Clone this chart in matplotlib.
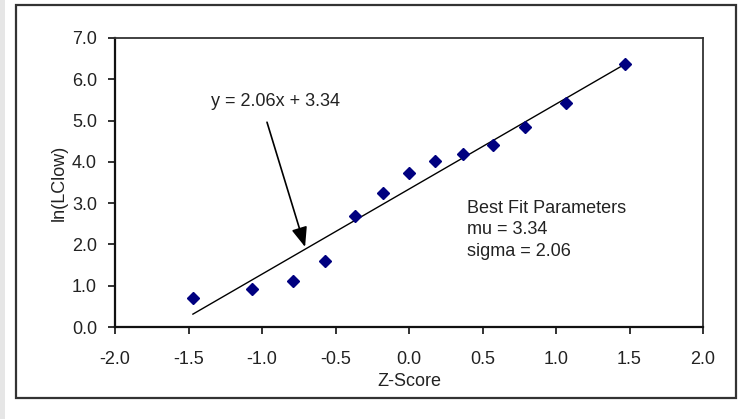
import matplotlib
matplotlib.use("Agg")
import matplotlib.pyplot as plt
from matplotlib.patches import Rectangle
import numpy as np

plt.rcParams['font.family'] = ['Liberation Sans', 'DejaVu Sans']

z_score = [-1.47, -1.07, -0.79, -0.57, -0.37, -0.18, 0.0, 0.18, 0.37, 0.57, 0.79, 1.07, 1.47]
ln_lclow = [0.70, 0.92, 1.12, 1.60, 2.70, 3.25, 3.73, 4.02, 4.20, 4.40, 4.84, 5.42, 6.38]
slope = 2.06
intercept = 3.34
x_ticks = [-2.0, -1.5, -1.0, -0.5, 0.0, 0.5, 1.0, 1.5, 2.0]
y_ticks = [0.0, 1.0, 2.0, 3.0, 4.0, 5.0, 6.0, 7.0]

W, H = 738, 419
fig = plt.figure(figsize=(W / 100, H / 100), dpi=100)
fig.patch.set_facecolor('white')

# outer light strip and frame
fig.patches.append(Rectangle((0, 0), 5 / W, 1, transform=fig.transFigure,
                             facecolor='#e6e6e6', edgecolor='none'))
fig.patches.append(Rectangle((16 / W, (H - 398) / H), (736 - 16) / W, (398 - 5) / H,
                             transform=fig.transFigure, facecolor='none',
                             edgecolor='#333333', linewidth=1.6))

ax = fig.add_axes([115 / W, (H - 327) / H, (703 - 115) / W, (327 - 38) / H])
ax.set_xlim(-2.0, 2.0)
ax.set_ylim(0.0, 7.0)

ax.plot(z_score, ln_lclow, linestyle='none', marker='D', markersize=6.5,
        color='#000080', zorder=3)

xfit = np.array([z_score[0], z_score[-1]])
ax.plot(xfit, slope * xfit + intercept, color='black', linewidth=1.0, zorder=2)

ax.set_xticks(x_ticks)
ax.set_yticks(y_ticks)
ax.set_xticklabels([f"{v:.1f}" for v in x_ticks])
ax.set_yticklabels([f"{v:.1f}" for v in y_ticks])
ax.tick_params(axis='both', direction='out', length=5, width=1.3, labelsize=13,
               colors='#222222')
ax.tick_params(axis='x', pad=12)
ax.tick_params(axis='y', pad=8)

for s in ['left', 'bottom']:
    ax.spines[s].set_color('#111111')
    ax.spines[s].set_linewidth(1.6)
for s in ['top', 'right']:
    ax.spines[s].set_color('#333333')
    ax.spines[s].set_linewidth(1.3)

ax.set_xlabel('Z-Score', fontsize=13, color='#222222', labelpad=4)
ax.set_ylabel('ln(LClow)', fontsize=13, color='#222222', labelpad=3)

ax.text(-0.905, 5.47, f'y = {slope:.2f}x + {intercept:.2f}', fontsize=13,
        color='#222222', ha='center', va='center')
ax.annotate('', xy=(-0.707, 1.94), xytext=(-0.966, 4.96),
            arrowprops=dict(arrowstyle='-|>,head_length=0.75,head_width=0.3',
                            color='black', lw=1.2, mutation_scale=16,
                            shrinkA=0, shrinkB=0))

ax.text(0.395, 3.07, f'Best Fit Parameters\nmu = {intercept:.2f}\nsigma = {slope:.2f}',
        fontsize=13, color='#222222', ha='left', va='top', linespacing=1.32)

fig.savefig('out.png', dpi=100)
